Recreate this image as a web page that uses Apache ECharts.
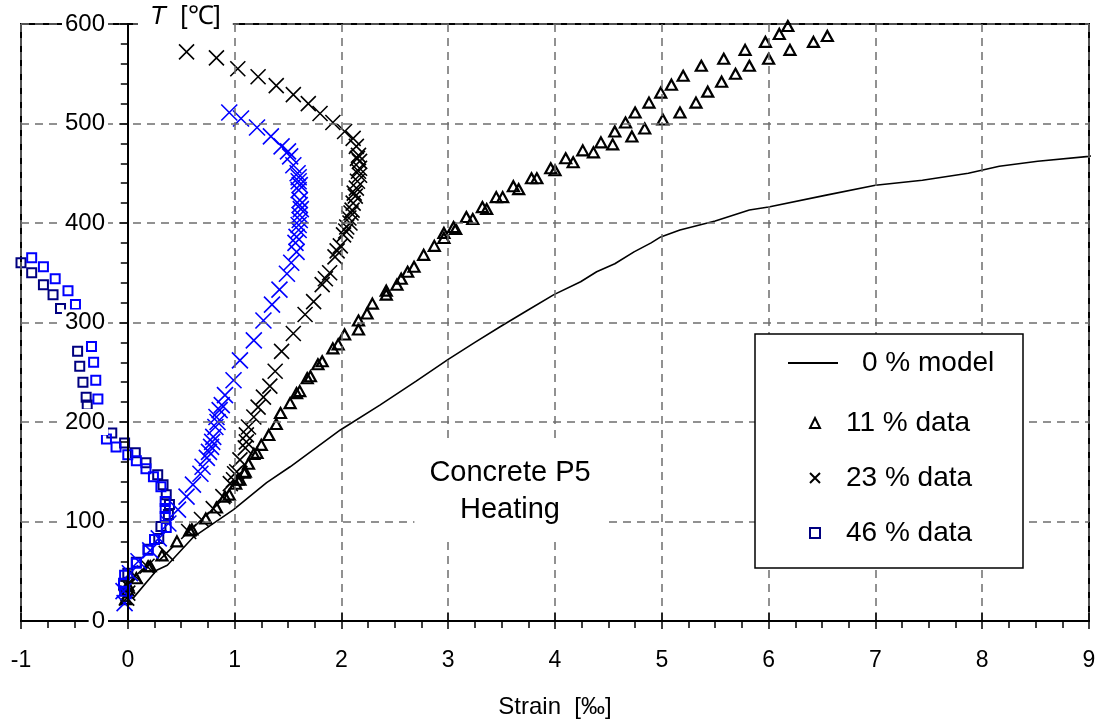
<!DOCTYPE html>
<html>
<head>
<meta charset="utf-8">
<script src="https://cdn.jsdelivr.net/npm/echarts@6/dist/echarts.min.js"></script>
<style>html,body{margin:0;padding:0;background:#fff}#c{width:1100px;height:724px}</style>
</head>
<body>
<div id="c"></div>
<script>
// ---- data (strain [‰], temperature [°C]) ----
var xTicks = [-1, 0, 1, 2, 3, 4, 5, 6, 7, 8, 9];
var yTicks = [0, 100, 200, 300, 400, 500, 600];
var seriesNames = ['0 % model', '11 % data', '23 % data', '46 % data'];

var model0 = [[0.05,23],[0.27,51],[0.37,56],[0.61,84],[0.99,112],[1.30,139],[1.52,155],[1.99,192],[2.36,217],[2.7,241],[3.0,263],[3.25,280],[3.49,296],[3.74,312],[3.99,328],[4.24,341],[4.39,351],[4.56,359],[4.74,371],[4.90,380],[4.99,386],[5.17,393],[5.50,402],[5.82,413],[6.0,416],[6.54,428],[7.0,438],[7.44,443],[7.87,450],[8.16,457],[8.52,462],[9.0,467],[9.1,469]];

var data11 = [[-0.02,22],[0.0,31],[0.0,36],[0.08,43],[0.19,55],[0.21,55],[0.32,66],[0.46,80],[0.58,91],[0.60,92],[0.73,103],[0.83,114],[0.91,125],[0.95,127],[1.01,138],[1.03,142],[1.05,142],[1.09,149],[1.10,150],[1.13,158],[1.18,168],[1.21,169],[1.25,177],[1.32,187],[1.39,198],[1.43,209],[1.52,219],[1.58,229],[1.61,231],[1.68,244],[1.71,246],[1.78,258],[1.82,261],[1.92,274],[1.97,278],[2.03,288],[2.16,293],[2.16,302],[2.24,309],[2.29,319],[2.42,332],[2.42,328],[2.52,338],[2.56,344],[2.62,351],[2.68,356],[2.77,368],[2.87,377],[2.96,390],[2.96,385],[3.05,396],[3.07,394],[3.17,406],[3.23,404],[3.32,416],[3.36,414],[3.45,426],[3.51,426],[3.61,437],[3.66,434],[3.78,445],[3.83,445],[3.96,455],[4.0,453],[4.10,465],[4.17,461],[4.26,473],[4.36,471],[4.43,481],[4.54,479],[4.56,492],[4.72,487],[4.66,501],[4.75,511],[4.84,495],[4.88,521],[4.99,531],[5.01,504],[5.09,539],[5.17,511],[5.20,548],[5.32,521],[5.37,558],[5.43,532],[5.56,542],[5.58,565],[5.69,550],[5.78,574],[5.82,558],[5.97,582],[6.0,565],[6.10,590],[6.18,598],[6.20,574],[6.42,582],[6.55,588]];

var data23 = [[-0.01,23],[0.0,28],[0.0,35],[0.07,45],[0.18,55],[0.36,68],[0.57,90],[0.69,102],[0.80,113],[0.89,125],[0.96,138],[0.99,142],[1.00,148],[1.02,150],[1.05,162],[1.10,174],[1.11,180],[1.11,187],[1.13,195],[1.18,205],[1.22,215],[1.27,225],[1.33,236],[1.38,251],[1.44,271],[1.55,289],[1.66,308],[1.74,321],[1.82,338],[1.89,350],[1.85,344],[1.94,366],[1.96,372],[1.99,377],[2.02,388],[2.05,396],[2.04,392],[2.07,405],[2.08,400],[2.10,413],[2.09,410],[2.11,420],[2.13,427],[2.12,430],[2.14,435],[2.15,442],[2.17,448],[2.16,452],[2.17,455],[2.17,462],[2.16,468],[2.15,465],[2.14,477],[2.11,485],[2.03,492],[1.92,501],[1.80,510],[1.69,520],[1.55,529],[1.39,538],[1.22,547],[1.03,555],[0.83,566],[0.55,572]];

var data46a = [[-1.0,360],[-0.90,350],[-0.79,338],[-0.70,328],[-0.63,314],[-0.47,271],[-0.45,256],[-0.42,240],[-0.39,225],[-0.38,217],[-0.15,189],[-0.03,179],[0.07,169],[0.17,159],[0.28,147],[0.33,137],[0.36,127],[0.39,117],[0.38,107],[0.31,95],[0.29,83],[0.19,72],[0.08,59],[0.0,48],[-0.04,36]];
var data46b = [[-0.90,365],[-0.79,356],[-0.68,344],[-0.56,332],[-0.49,318],[-0.34,276],[-0.32,260],[-0.30,242],[-0.28,223],[-0.20,183],[-0.11,175],[0.0,167],[0.08,161],[0.17,153],[0.24,145],[0.31,135],[0.35,120],[0.35,113],[0.35,105],[0.36,94],[0.25,82],[0.19,71],[0.08,58],[-0.03,46],[-0.04,38],[-0.03,30]];

var dataBlueX = [[-0.03,18],[-0.04,30],[0.02,48],[0.10,60],[0.21,71],[0.29,83],[0.38,98],[0.47,112],[0.55,125],[0.61,137],[0.68,148],[0.70,155],[0.74,164],[0.76,170],[0.78,175],[0.79,180],[0.80,185],[0.82,195],[0.84,200],[0.83,205],[0.86,212],[0.88,217],[0.91,227],[0.99,242],[1.05,262],[1.18,282],[1.27,302],[1.35,318],[1.42,333],[1.49,349],[1.53,360],[1.58,371],[1.57,380],[1.58,386],[1.60,393],[1.60,398],[1.61,403],[1.61,408],[1.62,414],[1.61,418],[1.61,423],[1.60,433],[1.61,438],[1.60,442],[1.60,446],[1.59,450],[1.55,458],[1.52,467],[1.50,472],[1.44,477],[1.34,487],[1.21,496],[1.06,505],[0.95,511]];

var FONT = '"Liberation Sans", Arial, Helvetica, sans-serif';
var crossPath = 'path://M0,0L10,10M10,0L0,10';
var gridDash = {type:[8,6], color:'#6e6e6e', width:1.5};

var chart = echarts.init(document.getElementById('c'), null, {renderer:'canvas'});
var option = {
  backgroundColor:'#fff',
  animation:false,
  textStyle:{fontFamily:FONT},
  grid:{left:21, right:11, top:24, bottom:103, show:true, borderColor:'#000', borderWidth:2, backgroundColor:'transparent', containLabel:false, outerBoundsMode:'none'},
  xAxis:[
    {type:'value', min:xTicks[0], max:xTicks[xTicks.length-1], interval:1, position:'bottom', z:10,
     axisLine:{onZero:false, lineStyle:{color:'#000', width:2}},
     axisTick:{show:true, inside:false, length:8, lineStyle:{color:'#000', width:1.5}},
     minorTick:{show:true, splitNumber:4, length:7, lineStyle:{color:'#000', width:1.5}},
     axisLabel:{fontSize:23, color:'#000', margin:28, fontFamily:FONT, showMinLabel:true, showMaxLabel:true},
     splitLine:{show:true, lineStyle:gridDash},
     name:'Strain  [‰]', nameLocation:'middle', nameGap:74,
     nameTextStyle:{fontSize:24, color:'#000', fontFamily:FONT}},
    {type:'value', min:xTicks[0], max:xTicks[xTicks.length-1], interval:1, position:'bottom', z:10,
     axisLine:{show:false, onZero:false},
     axisTick:{show:true, inside:true, length:8, lineStyle:{color:'#000', width:1.5}},
     axisLabel:{show:false}, splitLine:{show:false}}
  ],
  yAxis:[
    {type:'value', min:yTicks[0], max:yTicks[yTicks.length-1], interval:100, z:10,
     axisLine:{show:true, onZero:true, onZeroAxisIndex:0, lineStyle:{color:'#000', width:2}},
     axisTick:{show:true, inside:false, length:8, lineStyle:{color:'#000', width:1.5}},
     minorTick:{show:true, splitNumber:5, length:7, lineStyle:{color:'#000', width:1.5}},
     axisLabel:{fontSize:24, color:'#000', margin:-87, backgroundColor:'#fff', padding:[1,3,1,3], fontFamily:FONT, showMinLabel:true, showMaxLabel:true},
     splitLine:{show:true, lineStyle:gridDash}},
    {type:'value', min:yTicks[0], max:yTicks[yTicks.length-1], interval:100, z:10,
     axisLine:{show:true, onZero:true, onZeroAxisIndex:0, lineStyle:{color:'#000', width:2}},
     axisTick:{show:true, inside:true, length:8, lineStyle:{color:'#000', width:1.5}},
     axisLabel:{show:false}, splitLine:{show:false}}
  ],
  legend:[
    {data:[{name:seriesNames[0], icon:'rect'}], orient:'vertical', left:788, top:348, padding:0, z:20,
     itemWidth:50, itemHeight:2, selectedMode:false, itemStyle:{color:'#000', borderWidth:0},
     textStyle:{fontSize:28, lineHeight:30, color:'#000', fontFamily:FONT, padding:[0,0,0,19]}},
    {data:[seriesNames[1], seriesNames[2], seriesNames[3]], orient:'vertical', left:809, top:408, padding:0, z:20,
     itemWidth:10, itemHeight:10, itemGap:25, selectedMode:false,
     textStyle:{fontSize:28, lineHeight:30, color:'#000', fontFamily:FONT, padding:[0,0,0,21]}}
  ],
  graphic:[
    {type:'rect', z:15, shape:{x:755, y:334, width:268, height:234},
     style:{fill:'#fff', stroke:'#000', lineWidth:1.5}},
    {type:'text', z:30, x:138, y:17,
     style:{text:'{i|T}  [℃]', fontSize:26, fontFamily:FONT, fill:'#000', verticalAlign:'middle', align:'left',
            backgroundColor:'#fff', padding:[2,12,2,12],
            rich:{i:{fontStyle:'italic', fontSize:26, fontFamily:FONT}}}},
    {type:'text', z:30, x:510, y:491,
     style:{text:'Concrete P5\nHeating', fontSize:29, lineHeight:37, fontFamily:FONT, fill:'#000',
            align:'center', verticalAlign:'middle', backgroundColor:'#fff', padding:[7,15,21,15]}}
  ],
  series:[
    {name:seriesNames[0], type:'line', data:model0, xAxisIndex:0, yAxisIndex:0, symbol:'none', showSymbol:false,
     clip:false, lineStyle:{color:'#000', width:1.6}, itemStyle:{color:'#000'}, z:3},
    {name:seriesNames[1], type:'scatter', data:data11, symbol:'triangle', symbolSize:[11,10],
     itemStyle:{color:'rgba(0,0,0,0)', borderColor:'#000', borderWidth:2.2, opacity:1}, z:3},
    {name:seriesNames[2], type:'scatter', data:data23, symbol:crossPath, symbolSize:15,
     itemStyle:{color:'rgba(0,0,0,0)', borderColor:'#000', borderWidth:1.6, opacity:1}, z:3},
    {name:seriesNames[3], type:'scatter', data:data46a, symbol:'rect', symbolSize:9,
     itemStyle:{color:'rgba(0,0,0,0)', borderColor:'#000080', borderWidth:2, opacity:1}, z:3},
    {name:seriesNames[3], type:'scatter', data:data46b, symbol:'rect', symbolSize:9,
     itemStyle:{color:'rgba(0,0,0,0)', borderColor:'#0000ff', borderWidth:2, opacity:1}, z:3},
    {name:'blue crosses', type:'scatter', data:dataBlueX, symbol:crossPath, symbolSize:16,
     itemStyle:{color:'rgba(0,0,0,0)', borderColor:'#0000ff', borderWidth:1.6, opacity:1}, z:3}
  ]
};
chart.setOption(option);
</script>
</body>
</html>
